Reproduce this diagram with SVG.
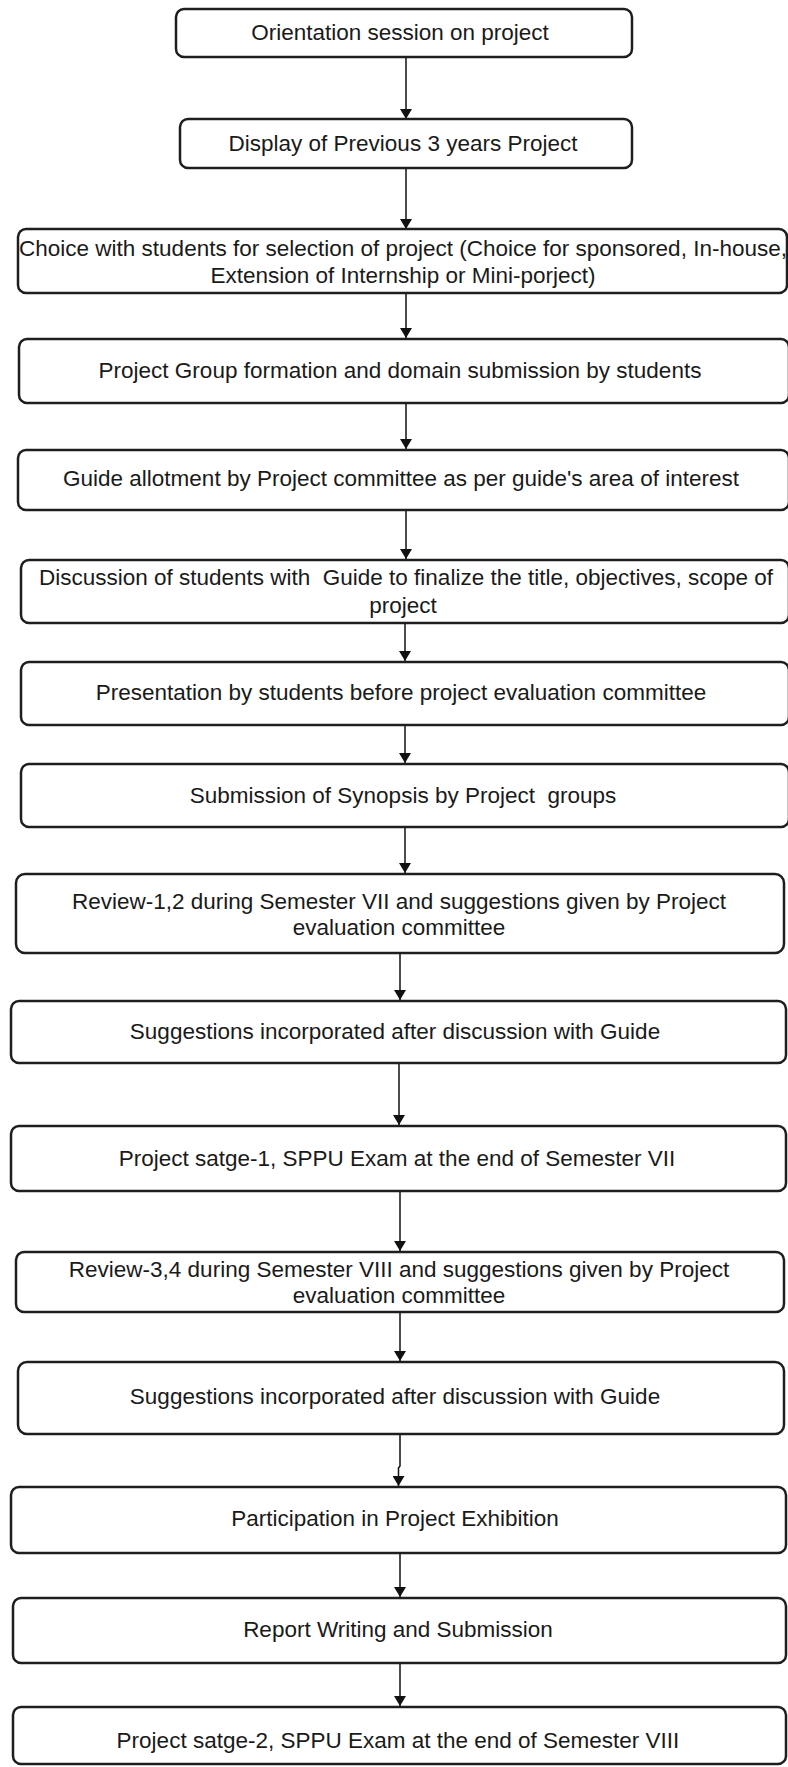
<svg xmlns="http://www.w3.org/2000/svg" width="788" height="1767" viewBox="0 0 788 1767">
<defs>
<marker id="ah" viewBox="0 0 10 12" refX="10" refY="6" markerWidth="10" markerHeight="12" markerUnits="userSpaceOnUse" orient="auto">
<path d="M0,0 L10,6 L0,12 Z" fill="#111"/>
</marker>
<style>
.box{fill:#fff;stroke:#1e1e1e;stroke-width:2.5}
.t{font-family:"Liberation Sans",Arial,sans-serif;font-size:22.5px;fill:#1a1a1a;text-anchor:middle}
.c{fill:none;stroke:#111;stroke-width:1.5;marker-end:url(#ah)}
</style>
</defs>
<rect width="788" height="1767" fill="#fff"/>
<g id="connectors">
<path class="c" d="M406,57 V119"/>
<path class="c" d="M406,168 V229"/>
<path class="c" d="M406,293 V338"/>
<path class="c" d="M406,403 V449"/>
<path class="c" d="M406,510 V559"/>
<path class="c" d="M405,623 V661"/>
<path class="c" d="M405,725 V763"/>
<path class="c" d="M405,827 V873"/>
<path class="c" d="M400,953 V1000"/>
<path class="c" d="M399,1063 V1125"/>
<path class="c" d="M400,1191 V1251"/>
<path class="c" d="M400,1312 V1361"/>
<path class="c" d="M400,1434 V1466 L398.5,1468 V1486"/>
<path class="c" d="M400,1553 V1597"/>
<path class="c" d="M400,1663 V1706"/>
</g>
<g id="n1"><rect class="box" x="176" y="9" width="456" height="48" rx="8"/><text class="t" x="400" y="40">Orientation session on project</text></g>
<g id="n2"><rect class="box" x="180" y="119" width="452" height="49" rx="8"/><text class="t" x="403" y="151">Display of Previous 3 years Project</text></g>
<g id="n3"><rect class="box" x="18" y="229" width="769" height="64" rx="8"/><text class="t" x="403" y="256">Choice with students for selection of project (Choice for sponsored, In-house,</text><text class="t" x="403" y="283">Extension of Internship or Mini-porject)</text></g>
<g id="n4"><rect class="box" x="19" y="339" width="770" height="64" rx="8"/><text class="t" x="400" y="378">Project Group formation and domain submission by students</text></g>
<g id="n5"><rect class="box" x="18" y="450" width="771" height="60" rx="8"/><text class="t" x="401" y="486">Guide allotment by Project committee as per guide's area of interest</text></g>
<g id="n6"><rect class="box" x="21" y="560" width="768" height="63" rx="8"/><text class="t" x="406" y="585" xml:space="preserve">Discussion of students with  Guide to finalize the title, objectives, scope of</text><text class="t" x="403" y="613">project</text></g>
<g id="n7"><rect class="box" x="21" y="662" width="768" height="63" rx="8"/><text class="t" x="401" y="700">Presentation by students before project evaluation committee</text></g>
<g id="n8"><rect class="box" x="21" y="764" width="768" height="63" rx="8"/><text class="t" x="403" y="803" xml:space="preserve">Submission of Synopsis by Project  groups</text></g>
<g id="n9"><rect class="box" x="16" y="874" width="768" height="79" rx="9"/><text class="t" x="399" y="909">Review-1,2 during Semester VII and suggestions given by Project</text><text class="t" x="399" y="935">evaluation committee</text></g>
<g id="n10"><rect class="box" x="11" y="1001" width="775" height="62" rx="8"/><text class="t" x="395" y="1039">Suggestions incorporated after discussion with Guide</text></g>
<g id="n11"><rect class="box" x="11" y="1126" width="775" height="65" rx="8"/><text class="t" x="397" y="1166">Project satge-1, SPPU Exam at the end of Semester VII</text></g>
<g id="n12"><rect class="box" x="16" y="1252" width="768" height="60" rx="8"/><text class="t" x="399" y="1277">Review-3,4 during Semester VIII and suggestions given by Project</text><text class="t" x="399" y="1303">evaluation committee</text></g>
<g id="n13"><rect class="box" x="18" y="1362" width="766" height="72" rx="9"/><text class="t" x="395" y="1404">Suggestions incorporated after discussion with Guide</text></g>
<g id="n14"><rect class="box" x="11" y="1487" width="775" height="66" rx="8"/><text class="t" x="395" y="1526">Participation in Project Exhibition</text></g>
<g id="n15"><rect class="box" x="13" y="1598" width="773" height="65" rx="8"/><text class="t" x="398" y="1637">Report Writing and Submission</text></g>
<g id="n16"><rect class="box" x="13" y="1707" width="773" height="57" rx="8"/><text class="t" x="398" y="1748">Project satge-2, SPPU Exam at the end of Semester VIII</text></g>
</svg>
